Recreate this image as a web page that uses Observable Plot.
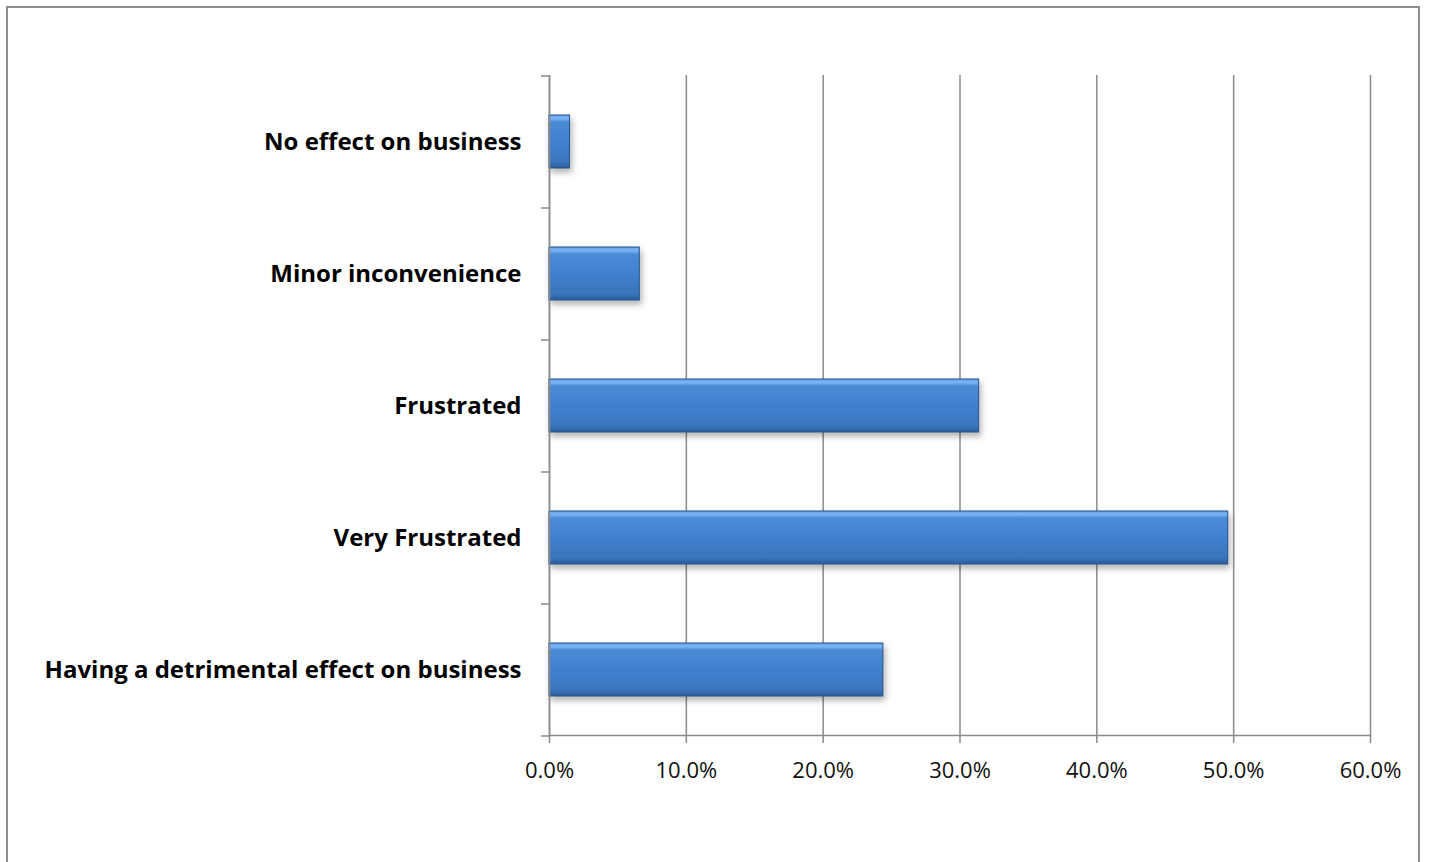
<!DOCTYPE html>
<html><head><meta charset="utf-8">
<script src="https://cdn.jsdelivr.net/npm/d3@7"></script>
<script src="https://cdn.jsdelivr.net/npm/@observablehq/plot@0.6"></script>
<style>
body{margin:0;background:#fff;overflow:hidden;}
#frame{position:absolute;left:6px;top:6px;width:1414px;height:900px;border:2px solid #8e8e8e;box-sizing:border-box;}
#chart{position:absolute;left:0;top:0;}
</style></head>
<body><div id="frame"></div><div id="chart"></div>
<script>
const categories = ["No effect on business","Minor inconvenience","Frustrated","Very Frustrated","Having a detrimental effect on business"];
const values = [0.015, 0.066, 0.314, 0.496, 0.244];
const xTicks = [0, 0.1, 0.2, 0.3, 0.4, 0.5, 0.6];
const data = categories.map((c, i) => ({category: c, value: values[i]}));

const defs = () => {
  const ns = "http://www.w3.org/2000/svg";
  const g = document.createElementNS(ns, "defs");
  g.innerHTML = `
  <linearGradient id="barGrad" x1="0" y1="0" x2="0" y2="1">
    <stop offset="0" stop-color="#5d9de6"/>
    <stop offset="0.06" stop-color="#7db6f2"/>
    <stop offset="0.14" stop-color="#4a8ad6"/>
    <stop offset="0.6" stop-color="#3e7dca"/>
    <stop offset="0.88" stop-color="#3a74bc"/>
    <stop offset="1" stop-color="#2c5d98"/>
  </linearGradient>
  <filter id="shadow" x="-5%" y="-20%" width="115%" height="160%">
    <feDropShadow dx="2" dy="4" stdDeviation="3" flood-color="#000" flood-opacity="0.3"/>
  </filter>`;
  return g;
};

const plot = Plot.plot({
  width: 1429,
  height: 862,
  marginLeft: 549,
  marginRight: 59,
  marginTop: 75,
  marginBottom: 127,
  style: {fontFamily: "'Open Sans', sans-serif", background: "transparent"},
  x: {domain: [0, 0.6]},
  y: {domain: categories, paddingInner: 0.6, paddingOuter: 0.3},
  marks: [
    defs,
    Plot.gridX(xTicks, {stroke: "#8a8a8a", strokeOpacity: 1, strokeWidth: 1.5}),
    Plot.barX(data, {y: "category", x: "value", fill: "url(#barGrad)", stroke: "#27548a", strokeWidth: 1, render: (i, s, v, d, c, next) => { const el = next(i, s, v, d, c); el.setAttribute("filter", "url(#shadow)"); return el; }}),
    Plot.ruleX([0], {stroke: "#8a8a8a", strokeWidth: 1.5}),
    Plot.frame({anchor: "bottom", stroke: "#8a8a8a", strokeWidth: 1.5}),
    Plot.axisY({tickSize: 0, tickPadding: 28, fontSize: 24, fontWeight: "bold", fill: "#000", label: null}),
    Plot.axisY({tickSize: 8, text: null, dy: -66, stroke: "#8a8a8a", strokeWidth: 1.5, label: null}),
    Plot.axisY([categories[categories.length - 1]], {tickSize: 8, text: null, dy: 66, stroke: "#8a8a8a", strokeWidth: 1.5, label: null}),
    Plot.axisX({ticks: xTicks, tickFormat: d3.format(".1%"), tickSize: 8, tickPadding: 19, fontSize: 22, fill: "#111", stroke: "#8a8a8a", strokeWidth: 1.5, label: null})
  ]
});
document.getElementById("chart").appendChild(plot);
</script>
</body></html>
